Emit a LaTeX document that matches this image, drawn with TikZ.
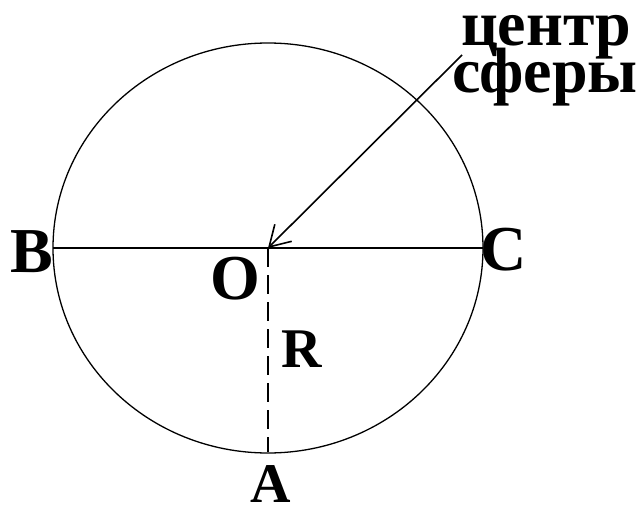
\documentclass[tikz,border=0pt]{standalone}
\usepackage{fontspec}
\setmainfont{Liberation Serif}
\usetikzlibrary{arrows.meta}
\begin{document}
\begin{tikzpicture}[x=1pt,y=-1pt,
  lbl/.style={anchor=base,inner sep=0pt,font=\bfseries\fontsize{64}{70}\selectfont},
  lbls/.style={anchor=base,inner sep=0pt,font=\bfseries\fontsize{56}{62}\selectfont},
  rus/.style={anchor=base,inner sep=0pt,font=\bfseries\fontsize{64}{70}\selectfont},
  thin line/.style={line width=1.3pt,black}]
\useasboundingbox (0,0) rectangle (637,508);
\coordinate (O) at (268,248);
\coordinate (Bp) at (53,248);
\coordinate (Cp) at (483,248);
\coordinate (Ap) at (268,452);
\coordinate (tail) at (462,55);
\draw[thin line] (O) ellipse [x radius=215, y radius=205];
\draw[thin line] (Bp) -- (Cp);
\draw[thin line, dash pattern=on 19pt off 8pt] (O) -- (Ap);
\draw[line width=1.6pt, -{Straight Barb[length=20pt,width=24pt,line width=1.6pt]}] (tail) -- (O);
\node[lbl] (B) at (32,272) {B};
\node[lbl] (C) at (504,270) {C};
\node[lbl] (Olbl) at (235,299) {O};
\node[lbls] (R) at (302,367) {R};
\node[lbls] (A) at (271,502) {A};
\node[rus] (t1) at (546,46) {центр};
\node[rus] (t2) at (545,93) {сферы};
\end{tikzpicture}
\end{document}
